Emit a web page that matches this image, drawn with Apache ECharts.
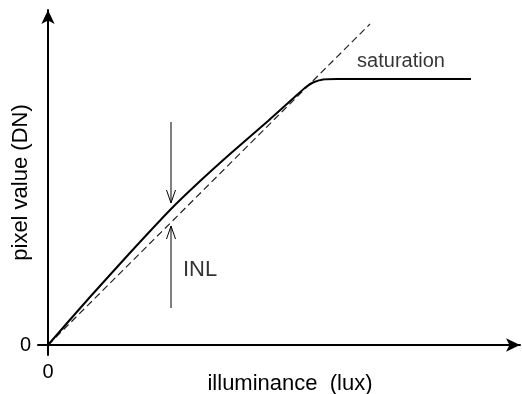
<!DOCTYPE html>
<html>
<head>
<meta charset="utf-8">
<script src="https://cdn.jsdelivr.net/npm/echarts@6/dist/echarts.min.js"></script>
<style>
  html, body { margin: 0; padding: 0; background: #fff; }
  #chart { width: 522px; height: 394px; }
</style>
</head>
<body>
<div id="chart"></div>
<script>
// illuminance (x) vs pixel value (y), arbitrary units
const responseCurve = [
  [0, 0], [20, 23], [42, 48], [80, 90], [123, 136], [150, 162],
  [182, 191], [220, 224], [250, 251], [258, 258], [265, 262.5],
  [275, 265.5], [289, 266], [423, 266]
]
const idealLine = [[0, 0], [322, 321]]

// INL arrows: [x, from, tip]
const inlArrows = [
  [123, 223, 142],
  [123, 37, 119]
]

const labels = [
  { name: 'INL', value: [135, 75] },
  { name: 'saturation', value: [353, 284] }
]

const xTickLabels = [0]
const yTickLabels = [0]

const chart = echarts.init(document.getElementById('chart'))
const font = 'Liberation Sans, Arial, sans-serif'

const option = {
  animation: false,
  grid: { left: 38, right: 2, top: 10, bottom: 39, outerBoundsMode: 'none', containLabel: false },
  xAxis: {
    type: 'value',
    min: -10,
    max: 472,
    name: 'illuminance  (lux)',
    nameLocation: 'middle',
    nameGap: 18,
    nameMoveOverlap: false,
    nameTextStyle: { color: '#000', fontSize: 22, fontFamily: font, padding: [0, 0, 0, 22] },
    axisLine: {
      onZero: true,
      symbol: ['none', 'arrow'],
      symbolSize: [10, 14],
      lineStyle: { color: '#000', width: 2 }
    },
    axisTick: { show: false },
    splitLine: { show: false },
    axisLabel: {
      customValues: xTickLabels,
      color: '#000',
      fontSize: 20,
      fontFamily: font,
      margin: 7
    }
  },
  yAxis: {
    type: 'value',
    min: -10,
    max: 335,
    name: 'pixel value (DN)',
    nameLocation: 'middle',
    nameGap: 6,
    nameMoveOverlap: false,
    nameTextStyle: { color: '#000', fontSize: 22, fontFamily: font },
    axisLine: {
      onZero: true,
      symbol: ['none', 'arrow'],
      symbolSize: [10, 14],
      lineStyle: { color: '#000', width: 2 }
    },
    axisTick: { show: false },
    splitLine: { show: false },
    axisLabel: {
      customValues: yTickLabels,
      color: '#000',
      fontSize: 20,
      fontFamily: font,
      margin: 7
    }
  },
  series: [
    {
      type: 'line',
      data: idealLine,
      symbol: 'none',
      lineStyle: { color: '#222', width: 1.2, type: [7, 4] },
      z: 2
    },
    {
      type: 'line',
      data: responseCurve,
      symbol: 'none',
      smooth: 0.2,
      lineStyle: { color: '#000', width: 2 },
      z: 3
    },
    {
      type: 'custom',
      data: inlArrows,
      renderItem: function (params, api) {
        const p0 = api.coord([api.value(0), api.value(1)])
        const p1 = api.coord([api.value(0), api.value(2)])
        const dir = p1[1] > p0[1] ? 1 : -1
        return {
          type: 'group',
          children: [
            {
              type: 'line',
              shape: { x1: p0[0], y1: p0[1], x2: p1[0], y2: p1[1] },
              style: { stroke: '#000', lineWidth: 1 }
            },
            {
              type: 'polyline',
              shape: { points: [[p1[0] - 4.5, p1[1] - dir * 13], [p1[0], p1[1]], [p1[0] + 4.5, p1[1] - dir * 13]] },
              style: { stroke: '#000', lineWidth: 1, fill: null }
            }
          ]
        }
      }
    },
    {
      type: 'scatter',
      symbolSize: 0,
      data: labels.map((d, i) => ({
        name: d.name,
        value: d.value,
        label: {
          show: true,
          position: 'inside',
          align: i === 0 ? 'left' : 'center',
          formatter: '{b}',
          color: '#000',
          fontFamily: font,
          fontSize: i === 0 ? 22 : 20
        }
      }))
    }
  ]
}

chart.setOption(option)
window.addEventListener('resize', () => chart.resize())
</script>
</body>
</html>
